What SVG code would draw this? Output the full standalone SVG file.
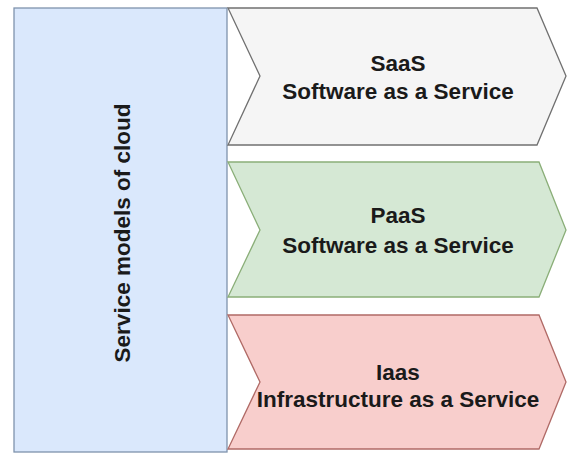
<svg xmlns="http://www.w3.org/2000/svg" width="567" height="454" viewBox="0 0 567 454">
<style>
text{font-family:"Liberation Sans",Arial,sans-serif;font-weight:bold;text-anchor:middle}
.lbl{font-size:22.5px;fill:#1a1a1a}
.side{font-size:22.5px;fill:#1a1a1a}
.shape{stroke-width:1.3}
</style>
<rect width="567" height="454" fill="#ffffff"/>
<g id="service-models">
<rect class="shape" x="14" y="8" width="213" height="444" fill="#dae8fc" stroke="#7f93ad"/>
<text class="side" transform="translate(130,233) rotate(-90)">Service models of cloud</text>
</g>
<g id="saas">
<polygon class="shape" points="228,8 537,8 566,76 537,145 228,145 260,76" fill="#f5f5f5" stroke="#707070"/>
<text class="lbl" x="398" y="71">SaaS</text>
<text class="lbl" x="398" y="99">Software as a Service</text>
</g>
<g id="paas">
<polygon class="shape" points="228,162 539,162 566,230 539,297 228,297 260,230" fill="#d5e8d4" stroke="#8aae78"/>
<text class="lbl" x="398" y="223">PaaS</text>
<text class="lbl" x="398" y="253">Software as a Service</text>
</g>
<g id="iaas">
<polygon class="shape" points="228,315 539,315 566,382 539,449 228,449 260,382" fill="#f8cecc" stroke="#b06a66"/>
<text class="lbl" x="398" y="380">Iaas</text>
<text class="lbl" x="398" y="407">Infrastructure as a Service</text>
</g>
<g id="connectors"></g>
</svg>
